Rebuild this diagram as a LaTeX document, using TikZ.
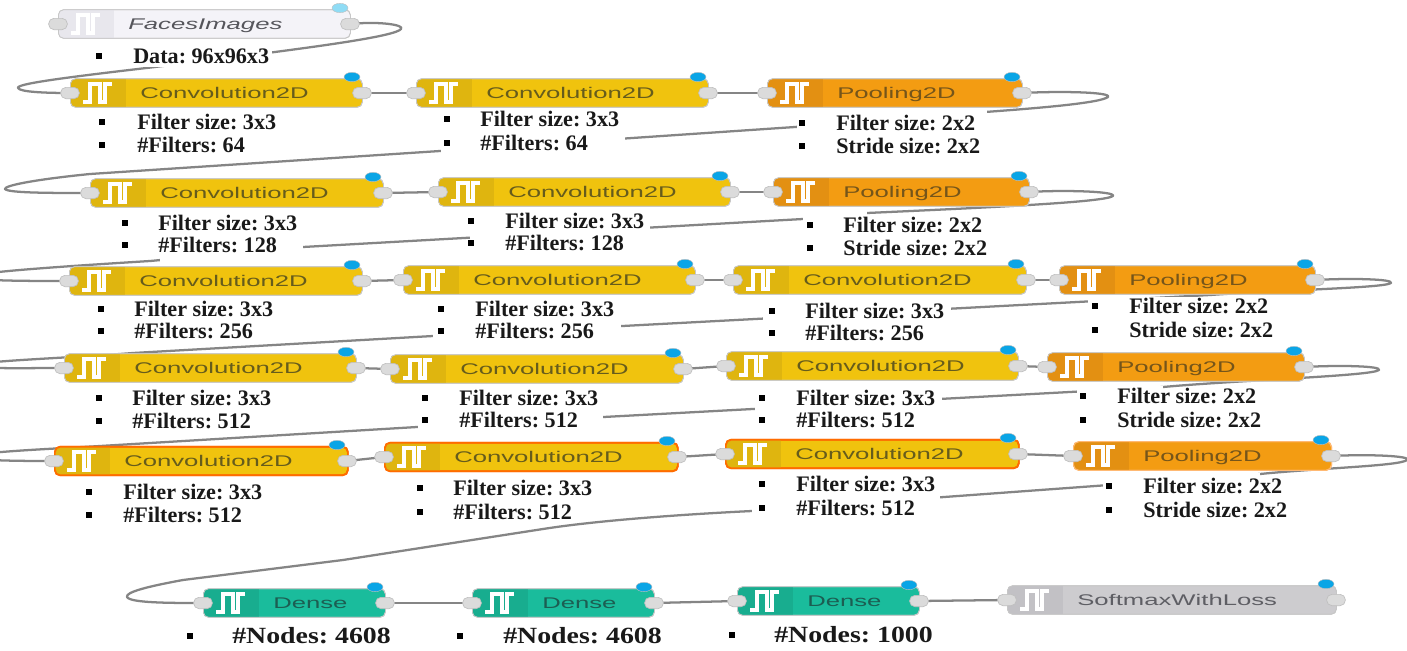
\documentclass[tikz,border=0pt]{standalone}
\usepackage{fontspec}
\setmainfont{Liberation Serif}
\setsansfont{Liberation Sans}
\usetikzlibrary{calc,shapes.geometric}
\pgfdeclarelayer{wires}
\pgfsetlayers{wires,main}
\frenchspacing
\definecolor{confB}{HTML}{F0C30E}\definecolor{confI}{HTML}{DFB50F}\definecolor{confT}{HTML}{665C1C}
\definecolor{poolB}{HTML}{F39C12}\definecolor{poolI}{HTML}{E39012}\definecolor{poolT}{HTML}{75551A}
\definecolor{densB}{HTML}{1ABC9C}\definecolor{densI}{HTML}{18AD8F}\definecolor{densT}{HTML}{1C5E52}
\definecolor{softB}{HTML}{CDCCCF}\definecolor{softI}{HTML}{C2C1C5}\definecolor{softT}{HTML}{5E5E64}
\definecolor{faceB}{HTML}{F4F3F8}\definecolor{faceI}{HTML}{E8E7ED}\definecolor{faceT}{HTML}{55555B}
\definecolor{wirec}{HTML}{858585}
\definecolor{dotc}{HTML}{0AA5E6}
\definecolor{dotl}{HTML}{8FDCF5}
\tikzset{
  wire/.style={draw=wirec,line width=1.7pt,line join=round},
  patch/.style={fill=white,draw=none},
  port/.style={rectangle,rounded corners=4pt,minimum width=14pt,minimum height=8.5pt,inner sep=0pt,fill=black!14,draw=black!25,line width=.5pt},
  dotn/.style={ellipse,minimum width=12pt,minimum height=7pt,inner sep=0pt,fill=#1,draw=black!25,line width=.3pt},
  itemtext/.style={anchor=base west,inner sep=0pt,font=\fontsize{16.6pt}{19pt}\selectfont\bfseries,text=black!90},
  bulletn/.style={rectangle,fill=black,inner sep=0pt,minimum width=5pt,minimum height=5pt},
  labeln/.style={anchor=base west,inner sep=0pt,font=\sffamily\fontsize{11.6pt}{14pt}\selectfont},
  plainedge/.style={draw=black!22,line width=.6pt},
  hotedge/.style={draw=orange!85!red,line width=1.3pt},
  softedge/.style={draw=orange!55,line width=.8pt}
}
% name, x1, x2, yc, family, label, edge style, dot colour
\newcommand\fn[8]{%
  \pgfmathsetmacro\fnw{(#3-#2)*0.75}%
  \node[rectangle,rounded corners=4pt,minimum width=\fnw pt,minimum height=21.5pt,inner sep=0pt,anchor=west,fill=#5B,#7] (#1) at (#2,#4) {};
  \begin{scope}
    \clip[rounded corners=4pt] (#2,#4-14) rectangle (#3,#4+14);
    \fill[#5I] (#2,#4-14) rectangle ++(56,28);
  \end{scope}
  \node[rectangle,rounded corners=4pt,minimum width=\fnw pt,minimum height=21.5pt,inner sep=0pt,anchor=west,#7] at (#2,#4) {};
  \draw[white,line width=2.6pt,line join=miter] ($(#2,#4)+(13,9)$) -- ++(7,0) -- ++(0,-18) -- ++(10,0) -- ++(0,18) -- ++(5,0) -- ++(0,-18) -- ++(7,0);
  \node[labeln,text=#5T] (#1-t) at ($(#2,#4)+(70,5.5)$) {\scalebox{1.66}[1]{#6}};
  \node[port] (#1-i) at (#2,#4) {};
  \node[port] (#1-o) at (#3,#4) {};
  \node[dotn=#8] (#1-d) at ($(#3,#4)+(-10,-16)$) {};
}
% name, bullet x, text x, base y, text
\newcommand\tx[5]{%
  \node[bulletn] (#1-b) at (#2,#4-7) {};
  \node[itemtext] (#1) at (#3,#4) {#5};
}
\begin{document}
\begin{tikzpicture}[x=0.75pt,y=-0.75pt]
\useasboundingbox (0,0) rectangle (1407,650);
% nodes
\fn{a0}{58}{350}{24}{face}{\itshape FacesImages}{plainedge}{dotl}
\fn{a1}{70}{362}{93}{conf}{Convolution2D}{plainedge}{dotc}
\fn{a2}{416}{708}{93}{conf}{Convolution2D}{plainedge}{dotc}
\fn{a3}{767}{1022}{93}{pool}{Pooling2D}{plainedge}{dotc}
\fn{b1}{90}{383}{193}{conf}{Convolution2D}{plainedge}{dotc}
\fn{b2}{438}{730}{192}{conf}{Convolution2D}{plainedge}{dotc}
\fn{b3}{773}{1029}{192}{pool}{Pooling2D}{plainedge}{dotc}
\fn{c1}{69}{362}{281}{conf}{Convolution2D}{plainedge}{dotc}
\fn{c2}{403}{695}{280}{conf}{Convolution2D}{plainedge}{dotc}
\fn{c3}{733}{1026}{280}{conf}{Convolution2D}{plainedge}{dotc}
\fn{c4}{1059}{1315}{280}{pool}{Pooling2D}{plainedge}{dotc}
\fn{d1}{64}{356}{368}{conf}{Convolution2D}{plainedge}{dotc}
\fn{d2}{390}{683}{369}{conf}{Convolution2D}{plainedge}{dotc}
\fn{d3}{726}{1018}{366}{conf}{Convolution2D}{plainedge}{dotc}
\fn{d4}{1047}{1304}{367}{pool}{Pooling2D}{plainedge}{dotc}
\fn{e1}{54}{347}{461}{conf}{Convolution2D}{hotedge}{dotc}
\fn{e2}{384}{677}{457}{conf}{Convolution2D}{hotedge}{dotc}
\fn{e3}{725}{1018}{454}{conf}{Convolution2D}{hotedge}{dotc}
\fn{e4}{1073}{1331}{456}{pool}{Pooling2D}{softedge}{dotc}
\fn{f1}{203}{385}{603}{dens}{Dense}{plainedge}{dotc}
\fn{f2}{472}{654}{603}{dens}{Dense}{plainedge}{dotc}
\fn{f3}{737}{919}{601}{dens}{Dense}{plainedge}{dotc}
\fn{f4}{1007}{1336}{600}{soft}{SoftmaxWithLoss}{plainedge}{dotc}
\begin{pgfonlayer}{wires}
\fill[white] (0,0) rectangle (1407,650);
% long return wires
\draw[wire] (a0-o.center) .. controls (380,21) and (405,25) .. (401,29) .. controls (396,36) and (320,46) .. (275,52) -- (155,67) .. controls (60,78) and (16,84) .. (18,88) .. controls (20,92) and (45,93) .. (a1-i.center);
\draw[wire] (a3-o.center) .. controls (1060,91) and (1112,92) .. (1108,97) .. controls (1100,103) and (1040,108) .. (985,112) -- (795,127) -- (440,151) -- (90,174) .. controls (30,180) and (4,186) .. (5,189) .. controls (8,193) and (50,193) .. (b1-i.center);
\draw[wire] (b3-o.center) .. controls (1060,190) and (1116,191) .. (1113,196) .. controls (1105,202) and (1000,207) .. (867,213) -- (803,219) -- (303,247) -- (150,261) .. controls (70,266) and (-25,272) .. (-30,277) .. controls (-25,281) and (30,281) .. (c1-i.center);
\draw[wire] (c4-o.center) .. controls (1350,278) and (1394,279) .. (1391,283) .. controls (1385,288) and (1280,290) .. (1210,295) -- (433,336) -- (133,353) .. controls (70,358) and (-25,361) .. (-30,366) .. controls (-25,369) and (30,368) .. (d1-i.center);
\draw[wire] (d4-o.center) .. controls (1340,365) and (1382,366) .. (1379,370) .. controls (1372,376) and (1240,380) .. (1163,387) -- (417,427) -- (100,446) .. controls (50,449) and (-25,452) .. (-30,457) .. controls (-25,461) and (30,461) .. (e1-i.center);
\draw[wire] (e4-o.center) .. controls (1370,454) and (1412,456) .. (1407,460) .. controls (1400,466) and (1320,468) .. (1260,474) -- (752,511) .. controls (690,514) and (600,520) .. (543,529) -- (343,560) -- (183,580) .. controls (150,586) and (125,592) .. (127,597) .. controls (130,603) and (170,603) .. (f1-i.center);
% short wires between neighbours
\foreach \p/\q in {a1/a2,a2/a3,b1/b2,b2/b3,c1/c2,c2/c3,c3/c4,d1/d2,d2/d3,d3/d4,e1/e2,e2/e3,e3/e4,f1/f2,f2/f3,f3/f4}{
  \draw[wire] (\p-o.center) -- (\q-i.center);
}
% gaps left around the bullet lists
\fill[patch] (130,46) rectangle (272,67);
\fill[patch] (441,109) rectangle (625,156);
\fill[patch] (797,109) rectangle (987,158);
\fill[patch] (160,212) rectangle (303,263);
\fill[patch] (470,210) rectangle (650,256);
\fill[patch] (803,209) rectangle (867,258);
\fill[patch] (433,298) rectangle (621,345);
\fill[patch] (763,298) rectangle (951,345);
\fill[patch] (1088,297) rectangle (1210,345);
\fill[patch] (418,386) rectangle (603,432);
\fill[patch] (755,386) rectangle (942,432);
\fill[patch] (1077,386) rectangle (1163,432);
\fill[patch] (752,473) rectangle (940,520);
\fill[patch] (1103,473) rectangle (1260,520);
\end{pgfonlayer}
% bullet lists
\tx{t00}{99}{133}{63}{Data: 96x96x3}
\tx{t11}{102}{137}{129}{Filter size: 3x3}\tx{t12}{102}{137}{152}{\#Filters: 64}
\tx{t13}{447}{480}{126}{Filter size: 3x3}\tx{t14}{447}{480}{150}{\#Filters: 64}
\tx{t15}{802}{836}{130}{Filter size: 2x2}\tx{t16}{802}{836}{153}{Stride size: 2x2}
\tx{t21}{125}{158}{230}{Filter size: 3x3}\tx{t22}{125}{158}{252}{\#Filters: 128}
\tx{t23}{471}{505}{228}{Filter size: 3x3}\tx{t24}{471}{505}{250}{\#Filters: 128}
\tx{t25}{810}{843}{232}{Filter size: 2x2}\tx{t26}{810}{843}{255}{Stride size: 2x2}
\tx{t31}{101}{134}{316}{Filter size: 3x3}\tx{t32}{101}{134}{338}{\#Filters: 256}
\tx{t33}{441}{475}{316}{Filter size: 3x3}\tx{t34}{441}{475}{338}{\#Filters: 256}
\tx{t35}{772}{805}{318}{Filter size: 3x3}\tx{t36}{772}{805}{340}{\#Filters: 256}
\tx{t37}{1095}{1129}{313}{Filter size: 2x2}\tx{t38}{1095}{1129}{337}{Stride size: 2x2}
\tx{t41}{99}{132}{405}{Filter size: 3x3}\tx{t42}{99}{132}{428}{\#Filters: 512}
\tx{t43}{425}{459}{405}{Filter size: 3x3}\tx{t44}{425}{459}{427}{\#Filters: 512}
\tx{t45}{762}{796}{405}{Filter size: 3x3}\tx{t46}{762}{796}{427}{\#Filters: 512}
\tx{t47}{1083}{1117}{403}{Filter size: 2x2}\tx{t48}{1083}{1117}{427}{Stride size: 2x2}
\tx{t51}{89}{123}{499}{Filter size: 3x3}\tx{t52}{89}{123}{522}{\#Filters: 512}
\tx{t53}{420}{453}{495}{Filter size: 3x3}\tx{t54}{420}{453}{519}{\#Filters: 512}
\tx{t55}{762}{796}{491}{Filter size: 3x3}\tx{t56}{762}{796}{515}{\#Filters: 512}
\tx{t57}{1109}{1143}{493}{Filter size: 2x2}\tx{t58}{1109}{1143}{517}{Stride size: 2x2}
\tx{t61}{190}{232}{643}{\scalebox{1.2}[1]{\fontsize{17.4pt}{20pt}\selectfont\#Nodes: 4608}}
\tx{t62}{460}{503}{643}{\scalebox{1.2}[1]{\fontsize{17.4pt}{20pt}\selectfont\#Nodes: 4608}}
\tx{t63}{732}{774}{642}{\scalebox{1.2}[1]{\fontsize{17.4pt}{20pt}\selectfont\#Nodes: 1000}}
\end{tikzpicture}
\end{document}
